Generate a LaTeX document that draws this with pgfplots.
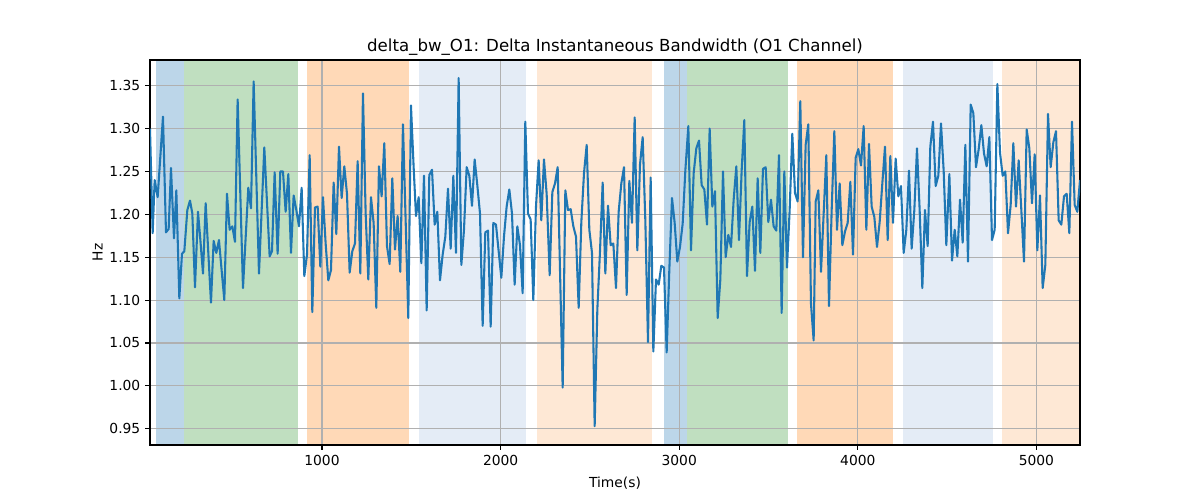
\documentclass[border=0pt]{standalone}
\usepackage{fontspec}
\setmainfont{DejaVu Sans}
\usepackage{pgfplots}
\pgfplotsset{compat=1.18}
\definecolor{tabblue}{RGB}{31,119,180}
\definecolor{spanblue}{RGB}{188,214,233}
\definecolor{spangreen}{RGB}{192,223,192}
\definecolor{spanorange}{RGB}{255,217,183}
\definecolor{spanlblue}{RGB}{228,236,246}
\definecolor{spanlorange}{RGB}{254,232,213}
\definecolor{gridgray}{RGB}{176,176,176}
\begin{document}
\begin{tikzpicture}
\begin{axis}[
  name=main,
  set layers,
  clip mode=individual,
  scale only axis,
  width=9.3in, height=3.85in,
  xmin=37, xmax=5244,
  ymin=0.931, ymax=1.380,
  xtick={1000,2000,3000,4000,5000},
  ytick={0.95,1.00,1.05,1.10,1.15,1.20,1.25,1.30,1.35},
  yticklabel style={/pgf/number format/.cd, fixed, fixed zerofill, precision=2},
  xticklabel style={/pgf/number format/1000 sep={}},
  /pgf/number format/assume math mode=true,
  tick align=outside,
  xtick pos=left, ytick pos=left,
  major tick length=3.5pt,
  tick style={black, line width=0.8pt},
  grid=major,
  grid style={gridgray, line width=0.8pt},
  axis line style={black, line width=0.8pt},
  ticklabel style={font=\fontsize{10}{12}\selectfont},
  title={delta\_bw\_O1: Delta Instantaneous Bandwidth (O1 Channel)},
  title style={font=\fontsize{12}{14}\selectfont, yshift=-6.3pt},
  xlabel={Time(s)}, ylabel={Hz},
  label style={font=\fontsize{10}{12}\selectfont},
  xlabel style={yshift=-1.3pt},
  ylabel style={yshift=-2pt},
]
% spans
\addplot[fill=spanblue, draw=none, on layer=axis background] coordinates {(70,0.931) (227,0.931) (227,1.38) (70,1.38)} -- cycle;
\addplot[fill=spangreen, draw=none, on layer=axis background] coordinates {(227,0.931) (866,0.931) (866,1.38) (227,1.38)} -- cycle;
\addplot[fill=spanorange, draw=none, on layer=axis background] coordinates {(915,0.931) (1486,0.931) (1486,1.38) (915,1.38)} -- cycle;
\addplot[fill=spanlblue, draw=none, on layer=axis background] coordinates {(1543,0.931) (2142,0.931) (2142,1.38) (1543,1.38)} -- cycle;
\addplot[fill=spanlorange, draw=none, on layer=axis background] coordinates {(2203,0.931) (2847,0.931) (2847,1.38) (2203,1.38)} -- cycle;
\addplot[fill=spanblue, draw=none, on layer=axis background] coordinates {(2915,0.931) (3043,0.931) (3043,1.38) (2915,1.38)} -- cycle;
\addplot[fill=spangreen, draw=none, on layer=axis background] coordinates {(3043,0.931) (3609,0.931) (3609,1.38) (3043,1.38)} -- cycle;
\addplot[fill=spanorange, draw=none, on layer=axis background] coordinates {(3659,0.931) (4197,0.931) (4197,1.38) (3659,1.38)} -- cycle;
\addplot[fill=spanlblue, draw=none, on layer=axis background] coordinates {(4253,0.931) (4757,0.931) (4757,1.38) (4253,1.38)} -- cycle;
\addplot[fill=spanlorange, draw=none, on layer=axis background] coordinates {(4807,0.931) (5244,0.931) (5244,1.38) (4807,1.38)} -- cycle;
% data
\addplot[tabblue, line width=1.5pt, line join=round, mark=none] table {
t v
37 1.300
51.9 1.178
63.1 1.240
79.9 1.220
109.7 1.314
126.5 1.179
141.5 1.183
154.5 1.254
171.3 1.172
184.4 1.228
201.2 1.102
216.1 1.154
229.2 1.157
246.0 1.205
260.9 1.216
274.0 1.201
288.9 1.115
305.7 1.203
319.0 1.170
333.7 1.131
348.6 1.213
378.4 1.097
393.4 1.169
408.3 1.155
423.2 1.170
438.0 1.135
453.1 1.100
468.0 1.224
483.0 1.182
497.9 1.186
512.8 1.168
527.7 1.334
557.6 1.114
587.4 1.231
602.4 1.207
617.3 1.355
647.2 1.131
677.0 1.278
706.9 1.151
720.0 1.157
734.9 1.249
751.6 1.154
766.6 1.250
781.5 1.250
796.5 1.203
811.5 1.247
826.4 1.155
841.3 1.222
856.2 1.205
871.2 1.186
886.1 1.231
901.0 1.128
916.0 1.153
930.9 1.269
945.8 1.086
960.7 1.208
975.7 1.209
990.6 1.139
1005.5 1.220
1020.4 1.166
1035.4 1.123
1050.3 1.135
1065.2 1.237
1080.2 1.177
1095.1 1.279
1110.0 1.219
1124.9 1.256
1139.9 1.224
1154.8 1.132
1169.7 1.157
1184.7 1.166
1199.6 1.262
1214.5 1.131
1229.4 1.341
1244.4 1.201
1259.3 1.124
1274.2 1.220
1289.1 1.190
1304.1 1.091
1319.0 1.256
1333.9 1.221
1348.9 1.283
1363.8 1.163
1378.7 1.142
1393.6 1.242
1408.6 1.159
1423.5 1.198
1438.4 1.133
1453.3 1.305
1468.3 1.193
1483.2 1.079
1498.1 1.327
1513.1 1.255
1526.3 1.198
1541.2 1.220
1556.2 1.143
1571.1 1.245
1586.0 1.088
1600.9 1.246
1615.9 1.252
1630.8 1.188
1645.7 1.203
1660.6 1.123
1675.6 1.153
1690.5 1.174
1705.4 1.230
1720.4 1.160
1735.3 1.245
1750.2 1.155
1765.1 1.359
1780.1 1.141
1795.0 1.182
1809.9 1.255
1824.9 1.245
1839.8 1.210
1854.7 1.264
1869.6 1.234
1884.6 1.201
1899.5 1.070
1914.4 1.179
1929.4 1.181
1944.3 1.069
1959.2 1.190
1974.1 1.188
1989.1 1.157
2004.0 1.126
2018.9 1.174
2033.8 1.209
2048.8 1.229
2063.7 1.201
2078.6 1.118
2093.6 1.186
2108.5 1.164
2123.4 1.108
2138.3 1.308
2153.3 1.201
2168.2 1.194
2183.1 1.100
2198.1 1.209
2213.0 1.263
2227.9 1.193
2242.8 1.264
2257.8 1.224
2274.7 1.129
2289.7 1.226
2304.6 1.236
2319.5 1.255
2347.5 0.998
2362.4 1.228
2377.4 1.205
2392.3 1.206
2407.2 1.186
2422.1 1.174
2437.1 1.091
2452.0 1.191
2466.9 1.248
2481.9 1.281
2496.8 1.182
2511.7 1.155
2526.6 0.953
2541.6 1.089
2556.5 1.157
2571.4 1.237
2586.4 1.131
2601.3 1.210
2616.2 1.164
2631.1 1.166
2646.1 1.114
2661.0 1.203
2675.9 1.236
2690.9 1.255
2705.8 1.106
2720.7 1.239
2735.6 1.190
2750.6 1.313
2765.5 1.158
2780.4 1.258
2795.4 1.290
2810.3 1.193
2825.2 1.051
2840.1 1.243
2855.1 1.040
2870.0 1.124
2884.9 1.118
2899.8 1.140
2914.8 1.138
2929.7 1.039
2944.6 1.135
2959.6 1.219
2974.5 1.190
2989.4 1.145
3004.3 1.162
3019.3 1.189
3034.3 1.251
3051.1 1.303
3066.0 1.158
3080.9 1.248
3095.8 1.277
3110.8 1.286
3125.7 1.234
3140.6 1.229
3155.6 1.188
3170.5 1.300
3185.4 1.209
3200.3 1.227
3215.3 1.079
3230.2 1.124
3245.1 1.250
3260.0 1.150
3275.0 1.176
3289.9 1.162
3304.8 1.217
3319.8 1.256
3334.7 1.170
3349.6 1.251
3364.5 1.310
3379.5 1.128
3394.4 1.191
3409.3 1.209
3424.3 1.134
3439.2 1.242
3454.1 1.155
3469.0 1.253
3484.0 1.255
3498.9 1.191
3513.8 1.217
3528.7 1.186
3543.7 1.181
3558.6 1.269
3573.5 1.085
3588.5 1.250
3603.4 1.138
3618.3 1.205
3633.2 1.294
3648.2 1.225
3663.1 1.215
3678.0 1.332
3693.0 1.150
3707.9 1.281
3722.8 1.305
3737.7 1.096
3752.7 1.053
3764.0 1.215
3779.0 1.228
3793.9 1.133
3808.8 1.201
3823.7 1.269
3838.7 1.093
3853.6 1.205
3868.5 1.297
3883.5 1.182
3898.4 1.236
3913.3 1.164
3928.2 1.180
3943.2 1.190
3958.1 1.238
3973.0 1.153
3988.0 1.266
4002.9 1.276
4017.8 1.257
4032.7 1.303
4047.7 1.182
4062.6 1.282
4077.5 1.209
4092.4 1.197
4107.4 1.162
4122.3 1.191
4137.2 1.236
4152.2 1.279
4167.1 1.170
4182.0 1.268
4196.9 1.190
4211.9 1.265
4226.8 1.221
4241.7 1.233
4256.7 1.155
4271.6 1.182
4286.5 1.251
4301.4 1.160
4316.4 1.205
4331.3 1.277
4346.2 1.205
4361.2 1.114
4376.1 1.205
4391.0 1.163
4405.9 1.279
4420.9 1.308
4435.8 1.233
4450.7 1.245
4465.7 1.306
4480.6 1.251
4495.5 1.164
4512.5 1.247
4527.4 1.146
4542.3 1.182
4557.2 1.151
4572.2 1.217
4587.1 1.167
4602.0 1.281
4616.9 1.145
4631.9 1.328
4646.8 1.318
4661.7 1.255
4676.7 1.276
4691.6 1.304
4706.5 1.271
4721.4 1.256
4736.4 1.290
4751.3 1.170
4766.2 1.182
4781.2 1.352
4796.1 1.272
4811.0 1.245
4825.9 1.250
4840.9 1.178
4855.8 1.211
4870.7 1.283
4885.7 1.209
4900.6 1.263
4915.5 1.205
4930.4 1.145
4945.4 1.299
4960.3 1.277
4975.2 1.213
4990.2 1.270
5005.1 1.158
5020.0 1.222
5034.9 1.114
5049.9 1.141
5064.8 1.317
5079.7 1.255
5094.7 1.284
5109.6 1.297
5124.5 1.193
5139.4 1.188
5154.4 1.221
5169.3 1.224
5184.2 1.178
5199.2 1.308
5214.1 1.211
5229.0 1.203
5244.0 1.240
};
\end{axis}
\pgfresetboundingbox
\path[use as bounding box] (main.south west) ++(-1.5in,-0.55in) rectangle ++(12in,5in);
\end{tikzpicture}
\end{document}
